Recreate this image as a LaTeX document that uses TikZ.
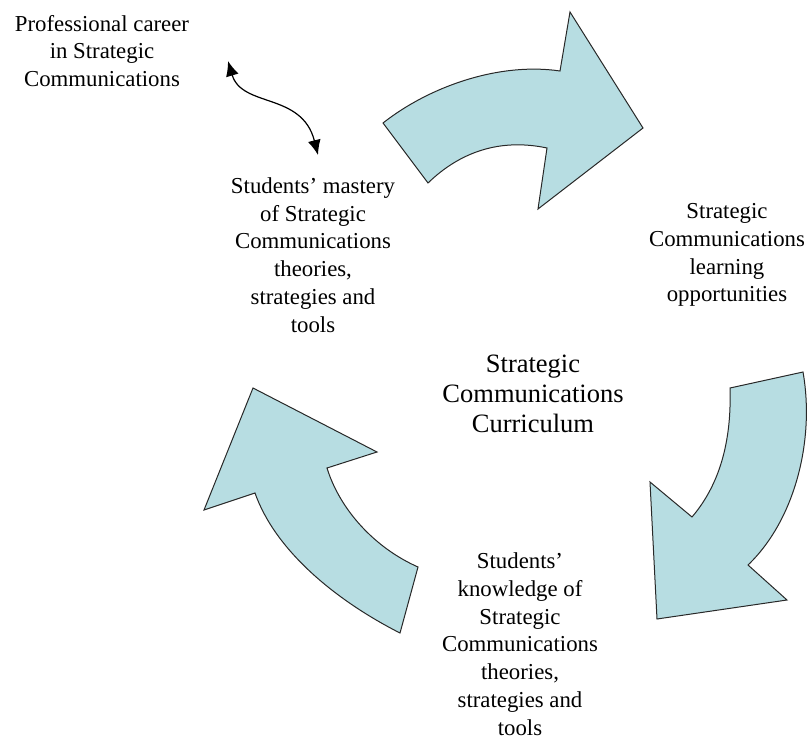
\documentclass[tikz,border=0pt]{standalone}
\usepackage{fontspec}
\setmainfont{Liberation Serif}
\usetikzlibrary{arrows.meta}
\definecolor{arrowfill}{RGB}{183,221,226}
\definecolor{arrowline}{RGB}{40,40,40}
\tikzset{
  lbl/.style={align=center, font=\fontsize{22.8}{27.8}\selectfont, inner sep=0pt},
  biglbl/.style={align=center, font=\fontsize{26.5}{30}\selectfont, inner sep=0pt},
  bigarrow/.style={fill=arrowfill, draw=arrowline, line width=1pt, line join=miter},
  link/.style={line width=1.2pt, {Latex[length=15pt,width=13pt]}-{Latex[length=15pt,width=13pt]}}
}
\begin{document}
\begin{tikzpicture}[x=1pt,y=-1pt]
\useasboundingbox (0,0) rectangle (809,742);
% texts
\node[lbl] (career) at (102,51) {Professional career\\in Strategic\\Communications};
\node[lbl] (mastery) at (313,255) {Students' mastery\\of Strategic\\Communications\\theories,\\strategies and\\tools};
\node[lbl] (opps) at (727,255) {Strategic\\Communications\\learning\\opportunities};
\node[biglbl] (curr) at (533,394) {Strategic\\Communications\\Curriculum};
\node[lbl] (know) at (520,644) {Students'\\knowledge of\\Strategic\\Communications\\theories,\\strategies and\\tools};
% top curved arrow
\draw[bigarrow] (383,123) .. controls (430,86) and (500,62) .. (560,71)
  -- (570,12) -- (643,128) -- (538,209) -- (547,148)
  .. controls (500,138) and (460,152) .. (428,183) -- cycle;
% right curved arrow
\draw[bigarrow] (730,388) -- (803,372)
  .. controls (815,440) and (795,520) .. (748,565)
  -- (787,600) -- (657,619) -- (650,482) -- (692,517)
  .. controls (715,490) and (732,450) .. (730,388) -- cycle;
% left curved arrow
\draw[bigarrow] (253,388) -- (377,452) -- (327,468)
  .. controls (340,510) and (375,548) .. (418,567)
  -- (400,633)
  .. controls (335,600) and (275,550) .. (255,493)
  -- (204,510) -- cycle;
% double-headed wavy link
\coordinate (linkA) at (228,61);
\coordinate (linkB) at (318,155);
\draw[link] (linkA) .. controls (242,108) and (302,92) .. (linkB);
\end{tikzpicture}
\end{document}
